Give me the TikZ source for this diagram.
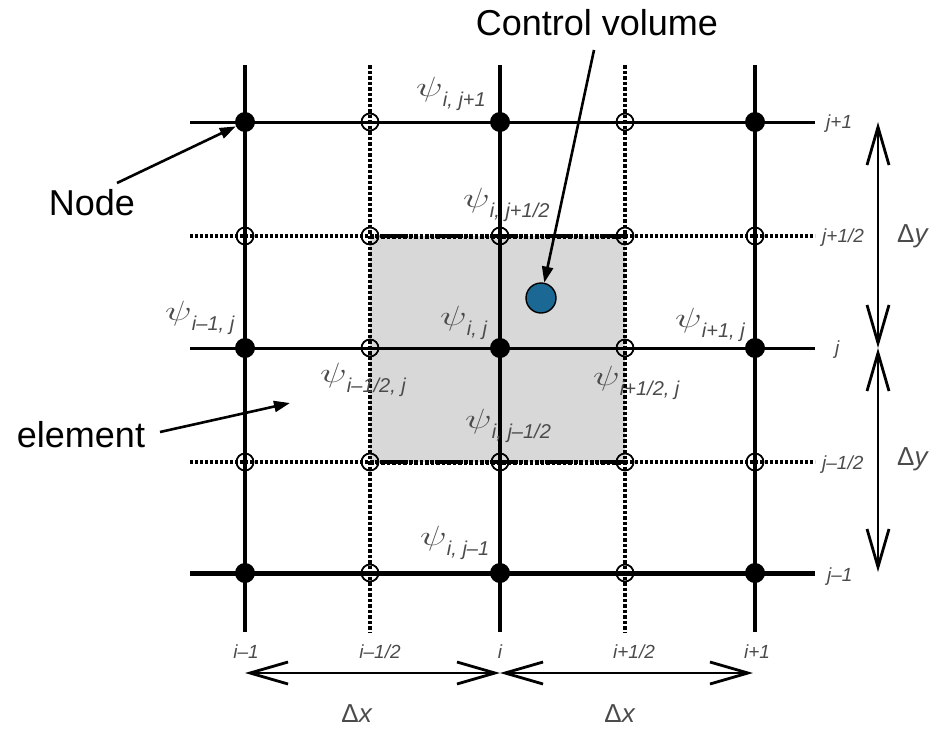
\documentclass[tikz,border=0pt]{standalone}
\usepackage{fontspec}
\setmainfont{Liberation Sans}
\usepackage{graphicx}
\usetikzlibrary{arrows.meta}
\definecolor{lblgray}{RGB}{75,75,75}
\definecolor{cvblue}{RGB}{28,104,148}
\definecolor{elemgray}{RGB}{216,216,216}
\newcommand\psilab[1]{\scalebox{1.6}[1.12]{$\psi$}\raisebox{-10pt}{\fontsize{20}{22}\selectfont\itshape #1}}
\begin{document}
\begin{tikzpicture}[x=1pt,y=-1pt,
  solidln/.style={line width=3.5pt, black},
  botln/.style={line width=5pt, black},
  dotln/.style={line width=3.5pt, dash pattern=on 3pt off 2pt},
  vdotln/.style={line width=4.5pt, dash pattern=on 3.5pt off 2pt},
  thickdot/.style={line width=5pt, dash pattern=on 3.5pt off 2pt},
  fulldot/.style={circle, fill=black, inner sep=0pt, minimum size=20pt},
  opendot/.style={circle, draw=black, line width=1.8pt, inner sep=0pt, minimum size=17pt},
  psilbl/.style={anchor=base west, text=lblgray, inner sep=0pt, font=\fontsize{24.88}{28}\selectfont},
  idx/.style={text=lblgray, font=\fontsize{19}{21}\selectfont\itshape, inner sep=0pt},
  big/.style={font=\fontsize{36}{40}\selectfont, inner sep=0pt},
  dlbl/.style={text=lblgray, font=\fontsize{26}{30}\selectfont, inner sep=0pt},
  dimarrow/.style={line width=2.8pt, {Straight Barb[length=38pt,width=22pt,line width=2.8pt]}-{Straight Barb[length=38pt,width=22pt,line width=2.8pt]}},
  ptr/.style={line width=2.6pt, -{Triangle[length=16pt,width=11pt]}},
]
\useasboundingbox (0,0) rectangle (936,731);
% shaded element
\fill[elemgray] (370,236) rectangle (625,462);
% line end coordinates
\foreach \a/\x in {0/245,1/370,2/500,3/625,4/755}{
  \coordinate (vt\a) at (\x,65);
  \coordinate (vb\a) at (\x,632);
}
\foreach \b/\y in {0/122,1/236,2/348,3/462,4/573}{
  \coordinate (hl\b) at (190,\y);
  \coordinate (hr\b) at (815,\y);
}
% vertical lines
\draw[solidln] (vt0) -- (vb0);
\draw[solidln] (vt2) -- (vb2);
\draw[solidln] (vt4) -- (vb4);
\draw[vdotln] (vt1) -- (vb1);
\draw[vdotln] (vt3) -- (vb3);
% horizontal lines
\draw[line width=3pt] (hl0) -- (hr0);
\draw[line width=3pt] (hl2) -- (hr2);
\draw[botln] (hl4) -- (hr4);
\draw[dotln] (hl1) -- (hr1);
\draw[dotln] (hl3) -- (hr3);
\coordinate (gl1) at (370,236); \coordinate (gr1) at (625,236);
\coordinate (gl3) at (370,462); \coordinate (gr3) at (625,462);
\draw[thickdot] (gl1) -- (gr1);
\draw[thickdot] (gl3) -- (gr3);
% grid points
\foreach \a/\x in {0/245,1/370,2/500,3/625,4/755}{
  \foreach \b/\y in {0/122,1/236,2/348,3/462,4/573}{
    \pgfmathtruncatemacro{\parity}{mod(\a,2)+mod(\b,2)}
    \ifnum\parity=0
      \node[fulldot] (p\a\b) at (\x,\y) {};
    \else
      \node[opendot] (p\a\b) at (\x,\y) {};
    \fi
  }
}
% control volume point
\node[circle, fill=cvblue, draw=black, line width=1.4pt, minimum size=30pt, inner sep=0pt] (cv) at (541,298) {};
% psi labels
\node[psilbl] (l1) at (416,96) {\psilab{i, j+1}};
\node[psilbl] (l2) at (463,207) {\psilab{i, j+1/2}};
\node[psilbl] (l3) at (165,320) {\psilab{i–1, j}};
\node[psilbl] (l4) at (440,325) {\psilab{i, j}};
\node[psilbl] (l5) at (675,327) {\psilab{i+1, j}};
\node[psilbl] (l6) at (320,382) {\psilab{i–1/2, j}};
\node[psilbl] (l7) at (593,385) {\psilab{i+1/2, j}};
\node[psilbl] (l8) at (465,428) {\psilab{i, j–1/2}};
\node[psilbl] (l9) at (420,545) {\psilab{i, j–1}};
% index labels
\node[idx, anchor=base west] (j0) at (826,128) {j+1};
\node[idx, anchor=base west] (j1) at (822,242) {j+1/2};
\node[idx, anchor=base west] (j2) at (835,354) {j};
\node[idx, anchor=base west] (j3) at (822,469) {j–1/2};
\node[idx, anchor=base west] (j4) at (827,581) {j–1};
\node[idx, anchor=base] (i0) at (246,658) {i–1};
\node[idx, anchor=base] (i1) at (380,658) {i–1/2};
\node[idx, anchor=base] (i2) at (500,658) {i};
\node[idx, anchor=base] (i3) at (634,658) {i+1/2};
\node[idx, anchor=base] (i4) at (757,658) {i+1};
% dimension arrows
\coordinate (dx0) at (245,673); \coordinate (dx1) at (500,673); \coordinate (dx2) at (753,673);
\coordinate (dy0) at (878,122); \coordinate (dy1) at (878,348); \coordinate (dy2) at (878,572);
\draw[dimarrow] (dx0) -- (dx1);
\draw[dimarrow] (dx1) -- (dx2);
\draw[dimarrow] (dy0) -- (dy1);
\draw[dimarrow] (dy1) -- (dy2);
\node[dlbl, anchor=base] (dxa) at (357,722) {Δ\textit{x}};
\node[dlbl, anchor=base] (dxb) at (620,722) {Δ\textit{x}};
\node[dlbl, anchor=base west] (dya) at (897,242) {Δ\textit{y}};
\node[dlbl, anchor=base west] (dyb) at (897,465) {Δ\textit{y}};
% callouts
\node[big, anchor=base] (cvtxt) at (597,35) {Control volume};
\node[big, anchor=base] (nodetxt) at (92,215) {Node};
\node[big, anchor=base] (elemtxt) at (81,447) {element};
\coordinate (cvs) at (594,50);
\coordinate (ns) at (117,183);
\coordinate (es) at (160,432);
\coordinate (et) at (290,403);
\draw[ptr] (cvs) -- (cv);
\draw[ptr] (ns) -- (p00);
\draw[ptr] (es) -- (et);
\end{tikzpicture}
\end{document}
